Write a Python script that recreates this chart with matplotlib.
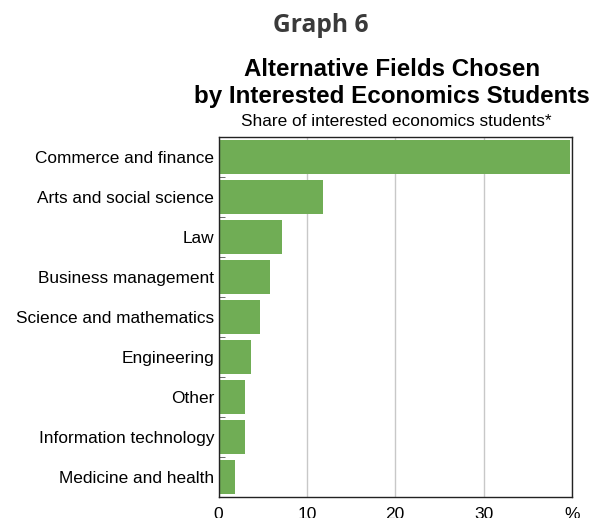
import numpy as np
import matplotlib
matplotlib.use("Agg")
import matplotlib.pyplot as plt
from matplotlib.ticker import FixedLocator

categories = ["Commerce and finance", "Arts and social science", "Law",
              "Business management", "Science and mathematics", "Engineering",
              "Other", "Information technology", "Medicine and health"]
shares = [39.8, 11.8, 7.2, 5.8, 4.7, 3.7, 3.0, 3.0, 1.9]
xticks = [0, 10, 20, 30, 40]
xticklabels = ["0", "10", "20", "30", "%"]

plt.rcParams["font.family"] = ["Liberation Sans", "DejaVu Sans"]

fig = plt.figure(figsize=(5.98, 5.18), dpi=100)
ax = fig.add_axes([0.3654, 0.0405, 0.5911, 0.695])

y = np.arange(len(categories))
ax.barh(y, shares, height=0.85, color="#70ad55", zorder=2)
ax.set_ylim(len(categories) - 0.5, -0.5)
ax.set_xlim(0, 40)

ax.set_yticks(y)
ax.set_yticklabels(categories, fontsize=12.4)
ax.yaxis.set_minor_locator(FixedLocator(np.arange(0.5, len(categories) - 1, 1)))
ax.tick_params(axis="y", which="major", length=0, pad=3)
ax.tick_params(axis="y", which="minor", direction="in", length=4, color="#555555")

ax.set_xticks(xticks)
ax.set_xticklabels(xticklabels, fontsize=12.5)
ax.tick_params(axis="x", length=0, pad=7)

ax.grid(axis="x", color="#c8c8c8", linewidth=1, zorder=0)
for s in ax.spines.values():
    s.set_color("#222222")
    s.set_linewidth(1)

fig.text(321 / 598, 1 - 25 / 518, "Graph 6", ha="center", va="center",
         fontsize=17.7, fontweight="bold", color="#3a3a3a", family="Open Sans")
fig.text(392 / 598, 1 - 83 / 518, "Alternative Fields Chosen\nby Interested Economics Students",
         ha="center", va="center", fontsize=17.4, fontweight="bold", linespacing=1.2)
fig.text(396 / 598, 1 - 122 / 518, "Share of interested economics students*",
         ha="center", va="center", fontsize=12.4)

fig.savefig("out.png", dpi=100)
